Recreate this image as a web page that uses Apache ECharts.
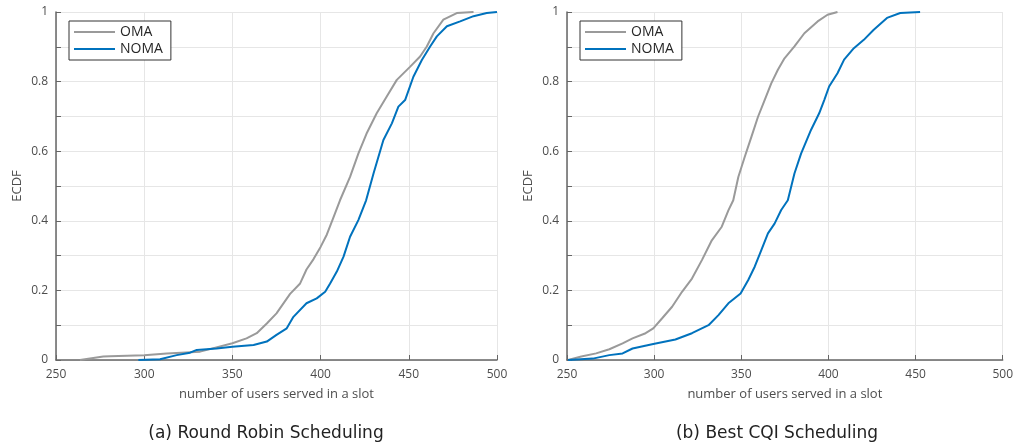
<!DOCTYPE html>
<html>
<head>
<meta charset="utf-8">
<script src="https://cdn.jsdelivr.net/npm/echarts@6/dist/echarts.min.js"></script>
<style>
  html, body { margin: 0; padding: 0; background: #fff; }
  #chart { width: 1016px; height: 445px; }
</style>
</head>
<body>
<div id="chart"></div>
<script>
// values: [users served, ECDF]
const rrOma = [
  [263.6, 0], [276.8, 0.01], [280.6, 0.011], [300, 0.014], [312.8, 0.019], [331.7, 0.024],
  [350, 0.048], [358, 0.062], [363.8, 0.077], [369.5, 0.105], [375, 0.134], [382.7, 0.19],
  [388.4, 0.22], [392, 0.26], [396, 0.29], [400, 0.325], [403.5, 0.36], [407.3, 0.41],
  [411, 0.459], [416.7, 0.526], [421.4, 0.593], [426, 0.65], [431.8, 0.709], [437.5, 0.757],
  [443.2, 0.805], [450.8, 0.843], [456.4, 0.872], [460.2, 0.901], [464, 0.939],
  [469.6, 0.978], [477.2, 0.997], [486.7, 1.0]
];
const rrNoma = [
  [296.7, 0], [309, 0.002], [318.4, 0.014], [326, 0.021], [329.8, 0.029], [341, 0.033],
  [350, 0.038], [362, 0.043], [369.5, 0.053], [375, 0.072], [380.8, 0.091], [384.6, 0.124],
  [392, 0.163], [397.8, 0.177], [402.6, 0.196], [405.4, 0.22], [409.2, 0.254], [413, 0.297],
  [416.7, 0.354], [421.4, 0.402], [425.8, 0.459], [430, 0.536], [435.6, 0.632], [440.4, 0.68],
  [444.1, 0.728], [447.9, 0.747], [452.6, 0.814], [457.4, 0.862], [462.1, 0.901],
  [465.9, 0.93], [471.6, 0.959], [479.1, 0.973], [486.7, 0.988], [494.2, 0.997], [500, 1.0]
];
const cqiOma = [
  [250.6, 0], [258.2, 0.01], [266.7, 0.019], [274.3, 0.031], [281.9, 0.048], [287.6, 0.062],
  [295.1, 0.077], [299.5, 0.091], [304.6, 0.12], [310.3, 0.153], [316, 0.196], [321.7, 0.234],
  [327.4, 0.287], [333.1, 0.344], [338.8, 0.383], [342.6, 0.43], [345.4, 0.459], [348.3, 0.526],
  [352, 0.584], [355.8, 0.641], [359.6, 0.699], [363.4, 0.747], [367.2, 0.795], [371, 0.834],
  [374.8, 0.867], [380.5, 0.901], [386.2, 0.939], [393.8, 0.973], [399.5, 0.992], [405.2, 1.0]
];
const cqiNoma = [
  [250.6, 0], [264.8, 0.004], [274.3, 0.014], [281.9, 0.019], [287.6, 0.033], [299.5, 0.046],
  [312.2, 0.059], [321.7, 0.077], [331.2, 0.1], [336.9, 0.129], [342.6, 0.163], [349.6, 0.191],
  [354, 0.23], [357.7, 0.268], [361.5, 0.316], [365.3, 0.364], [369.1, 0.392], [372.9, 0.431],
  [376.7, 0.459], [380.5, 0.536], [384.3, 0.593], [390, 0.661], [394.7, 0.709], [397.6, 0.747],
  [400.4, 0.786], [405.2, 0.824], [409, 0.863], [414.6, 0.896], [420.3, 0.92], [426, 0.949],
  [433.6, 0.983], [441.2, 0.997], [452.6, 1.0]
];
const captions = ['(a) Round Robin Scheduling', '(b) Best CQI Scheduling'];

const FONT = 'Open Sans';
const grayColor = '#9a9a9a';
const blueColor = '#0072bd';
const axisColor = '#666';
const labelColor = '#4d4d4d';

const chart = echarts.init(document.getElementById('chart'));

const xAxisFor = (i) => ({
  type: 'value', gridIndex: i, min: 250, max: 500, interval: 50,
  name: 'number of users served in a slot', nameLocation: 'middle', nameGap: 28,
  nameTextStyle: { color: labelColor, fontSize: 13, fontFamily: FONT },
  axisLine: { lineStyle: { color: axisColor, width: 1.5 } },
  axisTick: { inside: true, length: 5, lineStyle: { color: axisColor } },
  axisLabel: { color: labelColor, fontSize: 12, fontFamily: FONT, margin: 9 },
  splitLine: { show: true, lineStyle: { color: '#e6e6e6' } }
});
const yAxisFor = (i) => ({
  type: 'value', gridIndex: i, min: 0, max: 1, interval: 0.1,
  name: 'ECDF', nameLocation: 'middle', nameGap: 32,
  nameTextStyle: { color: labelColor, fontSize: 13, fontFamily: FONT },
  axisLine: { show: true, lineStyle: { color: axisColor, width: 1.5 } },
  axisTick: { show: true, inside: true, length: 5, lineStyle: { color: axisColor } },
  axisLabel: {
    color: labelColor, fontSize: 12, fontFamily: FONT, margin: 8,
    formatter: (v) => (Math.round(v * 10) % 2 === 0 ? String(Math.round(v * 10) / 10) : '')
  },
  splitLine: { show: true, lineStyle: { color: '#e6e6e6' } }
});
const lineSeries = (name, data, idx, color) => ({
  name: name, type: 'line', xAxisIndex: idx, yAxisIndex: idx,
  data: data, symbol: 'none', smooth: false,
  lineStyle: { color: color, width: 2 }, itemStyle: { color: color }
});
const legendFor = (left) => ({
  left: left, top: 21, orient: 'vertical',
  data: ['OMA', 'NOMA'],
  icon: 'rect', itemWidth: 41, itemHeight: 2, itemGap: 3,
  backgroundColor: '#fff', borderColor: '#333', borderWidth: 1,
  padding: [4, 8, 4, 5],
  textStyle: { color: '#262626', fontSize: 14, fontFamily: FONT }
});

chart.setOption({
  animation: false,
  textStyle: { fontFamily: FONT },
  grid: [
    { left: 56, right: 519, top: 12, bottom: 85 },
    { left: 567, right: 9, top: 12, bottom: 85 }
  ],
  xAxis: [xAxisFor(0), xAxisFor(1)],
  yAxis: [yAxisFor(0), yAxisFor(1)],
  legend: [legendFor(69), legendFor(580)],
  title: [
    { text: captions[0], left: 261, top: 420, textAlign: 'center',
      textStyle: { fontSize: 17, fontWeight: 'normal', color: '#222', fontFamily: 'DejaVu Sans' } },
    { text: captions[1], left: 772, top: 420, textAlign: 'center',
      textStyle: { fontSize: 17, fontWeight: 'normal', color: '#222', fontFamily: 'DejaVu Sans' } }
  ],
  series: [
    lineSeries('OMA', rrOma, 0, grayColor),
    lineSeries('NOMA', rrNoma, 0, blueColor),
    lineSeries('OMA', cqiOma, 1, grayColor),
    lineSeries('NOMA', cqiNoma, 1, blueColor)
  ]
});
</script>
</body>
</html>
